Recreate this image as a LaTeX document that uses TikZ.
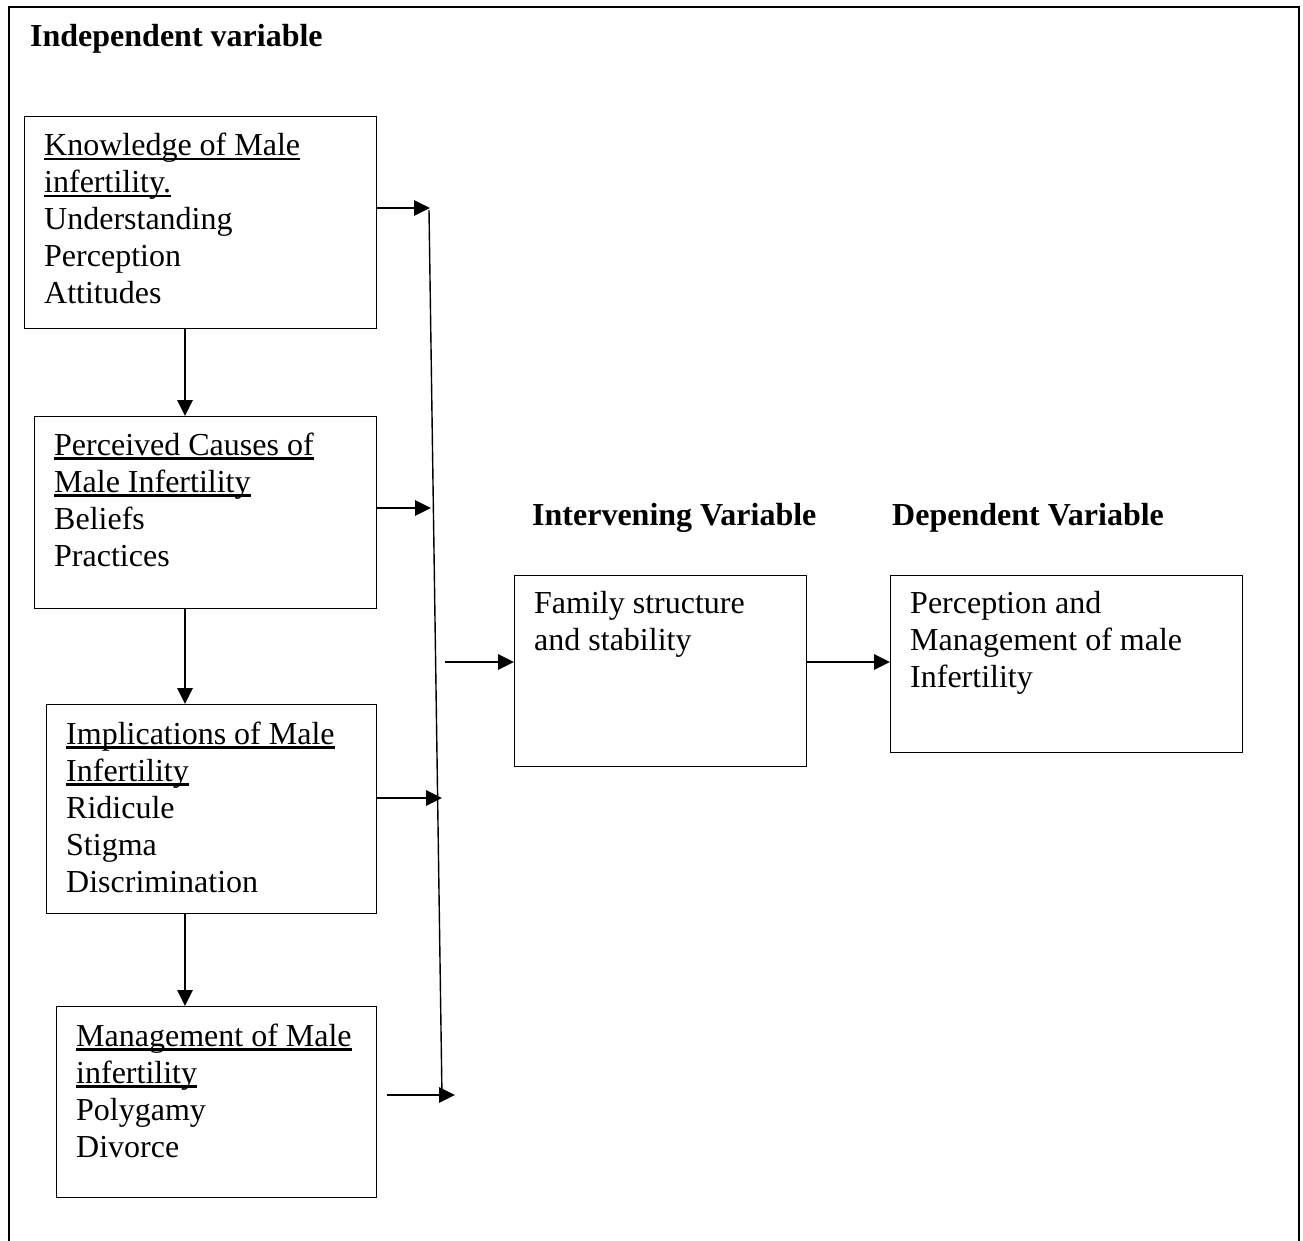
\documentclass[tikz,border=0pt]{standalone}
\usepackage{fontspec}
\setmainfont{Liberation Serif}
\usetikzlibrary{arrows.meta}

\newcommand{\undl}[1]{\leavevmode\setbox0\hbox{#1}\rlap{\rule[-4.5pt]{\wd0}{2.2pt}}\box0}

\begin{document}
\begin{tikzpicture}[x=1pt,y=-1pt,
    box/.style={draw,line width=1.4pt,anchor=north west,inner sep=0pt},
    txt/.style={anchor=base west,inner sep=0pt,font=\fontsize{32}{37}\selectfont},
    head/.style={anchor=base west,inner sep=0pt,font=\fontsize{32}{37}\selectfont\bfseries},
    arr/.style={line width=2.8pt,-{Triangle[length=16pt,width=15pt]}}]
\useasboundingbox (0,0) rectangle (1303,1241);
    \draw[line width=1.8pt] (9,1241)--(9,7)--(1299,7)--(1299,1241);

\node[head] (indep) at (30,47) {Independent variable};
\node[head] (interv) at (532,525) {Intervening Variable};
\node[head] (depv) at (892,525) {Dependent Variable};

% left column
\node[box,minimum width=352,minimum height=212] (know) at (24,116) {};
\node[txt] (knowtxt) at (44,156) {\parbox[t]{330pt}{\undl{Knowledge of Male}\\
    \undl{infertility.}\\ Understanding\\ Perception\\ Attitudes}};
\node[box,minimum width=342,minimum height=192] (cause) at (34,416) {};
\node[txt] (causetxt) at (54,455) {\parbox[t]{320pt}{\undl{Perceived Causes of}\\
    \undl{Male Infertility}\\ Beliefs\\ Practices}};
\node[box,minimum width=330,minimum height=209] (impl) at (46,704) {};
\node[txt] (impltxt) at (66,744) {\parbox[t]{310pt}{\undl{Implications of Male}\\
    \undl{Infertility}\\ Ridicule\\ Stigma\\ Discrimination}};
\node[box,minimum width=320,minimum height=191] (mgmt) at (56,1006) {};
\node[txt] (mgmttxt) at (76,1046) {\parbox[t]{300pt}{\undl{Management of Male}\\
    \undl{infertility}\\ Polygamy\\ Divorce}};

% right boxes
\node[box,minimum width=292,minimum height=191] (family) at (514,575) {};
\node[txt] (familytxt) at (534,613) {\parbox[t]{270pt}{Family structure\\ and stability}};
\node[box,minimum width=352,minimum height=177] (dep) at (890,575) {};
\node[txt] (deptxt) at (910,613) {\parbox[t]{330pt}{Perception and\\
    Management of male\\ Infertility}};

\coordinate (spine) at (185,0);
\draw[arr] (know.south -| spine)--(cause.north -| spine);
\draw[arr] (cause.south -| spine)--(impl.north -| spine);
\draw[arr] (impl.south -| spine)--(mgmt.north -| spine);

% collector line
\coordinate (ctop) at (429,210);
\coordinate (cbot) at (442,1097);
\draw[line width=1.4pt] (ctop)--(cbot);
\coordinate (c1) at (430,208);
\coordinate (c2) at (431,508);
\coordinate (c3) at (442,798);
\coordinate (c4) at (455,1095);
\coordinate (m4) at (387,1095);
\coordinate (c5) at (445,662);
\draw[arr] (know.east |- c1)--(c1);
\draw[arr] (cause.east |- c2)--(c2);
\draw[arr] (impl.east |- c3)--(c3);
\draw[arr] (m4)--(c4);
\draw[arr] (c5)--(family.west |- c5);
\draw[arr] (family.east |- c5)--(dep.west |- c5);
\end{tikzpicture}
\end{document}
